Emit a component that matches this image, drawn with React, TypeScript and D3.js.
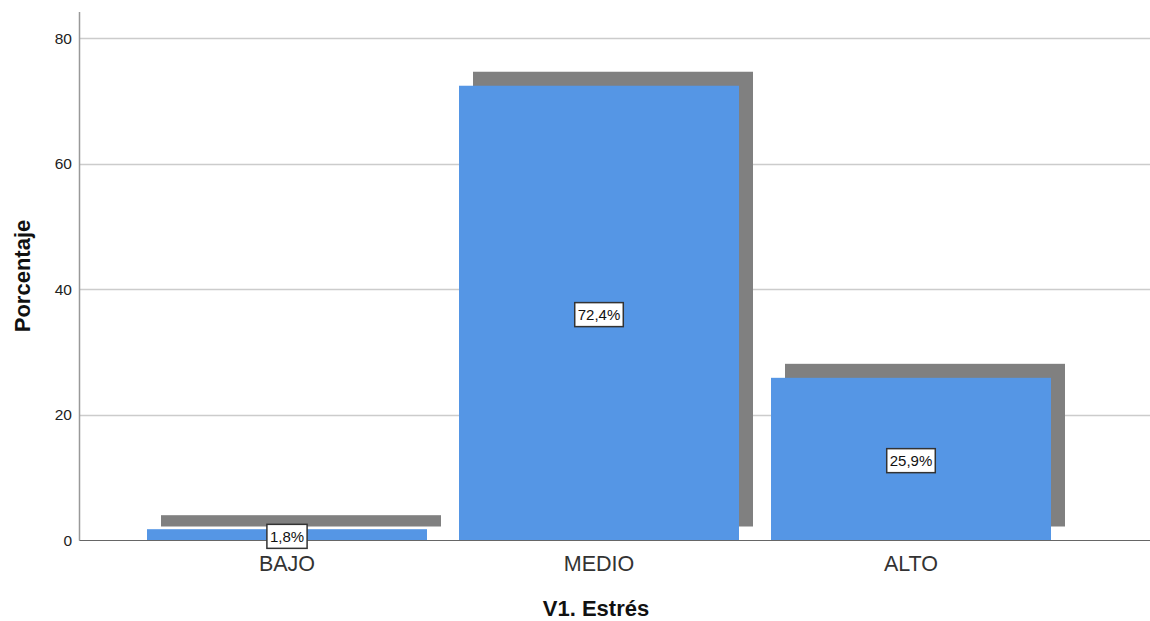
import { useEffect, useRef } from "react";
import * as d3 from "d3";

const categories = ["BAJO", "MEDIO", "ALTO"];
const percentages = [1.8, 72.4, 25.9];
const valueLabels = ["1,8%", "72,4%", "25,9%"];
const yTicks = [0, 20, 40, 60, 80];

const App = () => {
  const svgRef = useRef<SVGSVGElement>(null);

  useEffect(() => {
    if (!svgRef.current) return;
    const svg = d3.select(svgRef.current);
    svg.selectAll("*").remove();
    const width = 1150;
    const height = 621;
    const left = 79.5;
    const right = 1150;
    const top = 12;
    const base = 540.5;
    const shadow = 14;
    const font = "Arial, 'Liberation Sans', sans-serif";

    const yScale = d3.scaleLinear().domain([0, 80]).range([base, 38]);
    const xScale = d3
      .scaleBand()
      .domain(categories)
      .range([131, 1067])
      .paddingInner(32 / 312)
      .paddingOuter(16 / 312);

    svg.attr("width", width).attr("height", height);

    // gridlines
    svg
      .append("g")
      .selectAll("line")
      .data(yTicks.filter(d => d > 0))
      .enter()
      .append("line")
      .attr("x1", left)
      .attr("x2", right)
      .attr("y1", d => Math.round(yScale(d)) + 0.5)
      .attr("y2", d => Math.round(yScale(d)) + 0.5)
      .attr("stroke", "#cccccc")
      .attr("stroke-width", 1.5);

    // shadows
    svg
      .append("g")
      .selectAll("rect")
      .data(percentages)
      .enter()
      .append("rect")
      .attr("x", (d, i) => xScale(categories[i])! + shadow)
      .attr("y", d => yScale(d) - shadow)
      .attr("width", xScale.bandwidth())
      .attr("height", d => base - yScale(d))
      .attr("fill", "#808080");

    // bars
    svg
      .append("g")
      .selectAll("rect")
      .data(percentages)
      .enter()
      .append("rect")
      .attr("x", (d, i) => xScale(categories[i])!)
      .attr("y", d => yScale(d))
      .attr("width", xScale.bandwidth())
      .attr("height", d => base - yScale(d))
      .attr("fill", "#5596e5");

    // axes lines
    svg
      .append("line")
      .attr("x1", left)
      .attr("x2", left)
      .attr("y1", top)
      .attr("y2", base)
      .attr("stroke", "#999999")
      .attr("stroke-width", 1.5);
    svg
      .append("line")
      .attr("x1", left)
      .attr("x2", right)
      .attr("y1", base)
      .attr("y2", base)
      .attr("stroke", "#666666")
      .attr("stroke-width", 1);

    // y tick labels
    svg
      .append("g")
      .selectAll("text")
      .data(yTicks)
      .enter()
      .append("text")
      .attr("x", 72)
      .attr("y", d => yScale(d))
      .attr("dy", "0.36em")
      .attr("text-anchor", "end")
      .attr("font-family", font)
      .attr("font-size", 15.5)
      .attr("fill", "#222")
      .text(d => d);

    // category labels
    svg
      .append("g")
      .selectAll("text")
      .data(categories)
      .enter()
      .append("text")
      .attr("x", d => xScale(d)! + xScale.bandwidth() / 2)
      .attr("y", 571)
      .attr("text-anchor", "middle")
      .attr("font-family", font)
      .attr("font-size", 21.5)
      .attr("fill", "#333")
      .text(d => d);

    // value labels in boxes
    const labels = svg
      .append("g")
      .selectAll("g")
      .data(percentages)
      .enter()
      .append("g")
      .attr(
        "transform",
        (d, i) =>
          `translate(${xScale(categories[i])! + xScale.bandwidth() / 2},${yScale(d / 2) + 1.5})`
      );
    labels.each(function (d, i) {
      const g = d3.select(this);
      const txt = g
        .append("text")
        .attr("text-anchor", "middle")
        .attr("dy", "0.36em")
        .attr("font-family", font)
        .attr("font-size", 15)
        .attr("fill", "#111")
        .text(valueLabels[i]);
      const w = (txt.node() as SVGTextElement).getComputedTextLength();
      g.insert("rect", "text")
        .attr("x", -w / 2 - 3)
        .attr("y", -12)
        .attr("width", w + 6)
        .attr("height", 24)
        .attr("fill", "#ffffff")
        .attr("stroke", "#333")
        .attr("stroke-width", 1.5);
    });

    // axis titles
    svg
      .append("text")
      .attr("transform", `translate(30,${276}) rotate(-90)`)
      .attr("text-anchor", "middle")
      .attr("font-family", font)
      .attr("font-size", 22)
      .attr("font-weight", "bold")
      .attr("fill", "#111")
      .text("Porcentaje");
    svg
      .append("text")
      .attr("x", 596)
      .attr("y", 616)
      .attr("text-anchor", "middle")
      .attr("font-family", font)
      .attr("font-size", 22)
      .attr("font-weight", "bold")
      .attr("fill", "#111")
      .text("V1. Estrés");
  }, []);

  return (
    <svg
      ref={svgRef}
      style={{ position: "absolute", left: 0, top: 0, background: "#fff" }}
    />
  );
};

export default App;
